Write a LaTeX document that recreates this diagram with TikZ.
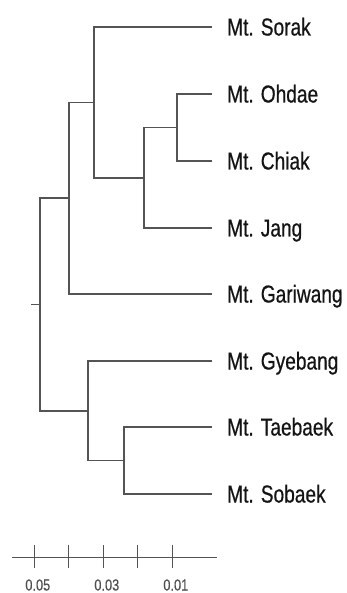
\documentclass[tikz,border=0pt]{standalone}
\usepackage{fontspec}
\usetikzlibrary{positioning}
\newfontfamily\leaffont[FakeStretch=0.78,FakeBold=0.6]{Liberation Sans}
\newfontfamily\scalefont[FakeStretch=0.8,FakeBold=0.2]{Liberation Sans}
\definecolor{branchgray}{gray}{0.33}
\definecolor{labelgray}{gray}{0.08}
\begin{document}
\begin{tikzpicture}[x=1pt,y=-1pt,
branch/.style={draw=branchgray,line width=1.2pt},
leaf/.style={anchor=west,inner xsep=15pt,inner ysep=0pt,text height=17pt,text depth=0pt,
text=labelgray,font=\leaffont\fontsize{24.5}{26}\selectfont},
ticklabel/.style={anchor=base,inner sep=0pt,text=labelgray!75,font=\scalefont\fontsize{16}{18}\selectfont}]
\useasboundingbox (0,0) rectangle (346,593);
\node[leaf] (sorak) at (212,27) {Mt. Sorak};
\node[leaf] (ohdae) at (212,94) {Mt. Ohdae};
\node[leaf] (chiak) at (212,161) {Mt. Chiak};
\node[leaf] (jang) at (212,228) {Mt. Jang};
\node[leaf] (gariwang) at (212,294) {Mt. Gariwang};
\node[leaf] (gyebang) at (212,361) {Mt. Gyebang};
\node[leaf] (taebaek) at (212,427) {Mt. Taebaek};
\node[leaf] (sobaek) at (212,494) {Mt. Sobaek};

\coordinate (n1) at (177,127.5);
\coordinate (n2) at (144,178);
\coordinate (n3) at (94,102.5);
\coordinate (n4) at (69,198);
\coordinate (n5) at (124,460.5);
\coordinate (n6) at (88,411);
\coordinate (root) at (40,304.5);
\coordinate (stub) at (31,304.5);

\draw[branch] (n1) |- (ohdae) (n1) |- (chiak);
\draw[branch] (n2) |- (n1) (n2) |- (jang);
\draw[branch] (n3) |- (sorak) (n3) |- (n2);
\draw[branch] (n4) |- (n3) (n4) |- (gariwang);
\draw[branch] (n5) |- (taebaek) (n5) |- (sobaek);
\draw[branch] (n6) |- (gyebang) (n6) |- (n5);
\draw[branch] (root) |- (n4) (root) |- (n6);
\draw[branch] (stub) -- (root);

\coordinate (barl) at (12,557.5);
\coordinate (barr) at (217,557.5);
\draw[branch] (barl) -- (barr);
\foreach \i/\x in {1/34.3,2/68.8,3/103.3,4/137.8,5/172.3}
  \draw[branch,line width=1pt] (\x,545) coordinate (tick\i) -- (\x,568);
\node[ticklabel] (l05) at (37.8,590.5) {0.05};
\node[ticklabel] (l03) at (106.8,590.5) {0.03};
\node[ticklabel] (l01) at (175.8,590.5) {0.01};
\end{tikzpicture}
\end{document}
